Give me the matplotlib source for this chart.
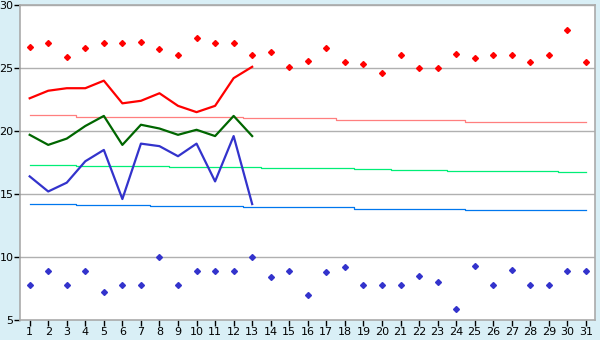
import matplotlib
matplotlib.use("Agg")
import matplotlib.pyplot as plt

days = list(range(1, 32))

# daily values
max_temp = [26.7, 27.0, 25.9, 26.6, 27.0, 27.0, 27.1, 26.5, 26.0, 27.4,
            27.0, 27.0, 26.0, 26.3, 25.1, 25.6, 26.6, 25.5, 25.3, 24.6,
            26.0, 25.0, 25.0, 26.1, 25.8, 26.0, 26.0, 25.5, 26.0, 28.0, 25.5]
min_temp = [7.8, 8.9, 7.8, 8.9, 7.2, 7.8, 7.8, 10.0, 7.8, 8.9,
            8.9, 8.9, 10.0, 8.4, 8.9, 7.0, 8.8, 9.2, 7.8, 7.8,
            7.8, 8.5, 8.0, 5.9, 9.3, 7.8, 9.0, 7.8, 7.8, 8.9, 8.9]

obs_days = list(range(1, 14))
high_line = [22.6, 23.2, 23.4, 23.4, 24.0, 22.2, 22.4, 23.0, 22.0, 21.5, 22.0, 24.2, 25.1]
mean_line = [19.7, 18.9, 19.4, 20.4, 21.2, 18.9, 20.5, 20.2, 19.7, 20.1, 19.6, 21.2, 19.6]
low_line = [16.4, 15.2, 15.9, 17.6, 18.5, 14.6, 19.0, 18.8, 18.0, 19.0, 16.0, 19.6, 14.2]

# normals (slowly falling through the month)
high_norm = [21.25] * 3 + [21.1] * 9 + [21.0] * 5 + [20.85] * 7 + [20.7] * 7
mean_norm = [17.3] * 3 + [17.22] * 5 + [17.14] * 5 + [17.04] * 5 + [16.96] * 2 + [16.88] * 3 + [16.8] * 6 + [16.72] * 2
low_norm = [14.18] * 3 + [14.1] * 4 + [14.02] * 5 + [13.94] * 6 + [13.79] * 6 + [13.71] * 7

bg = "#d9eff6"
fig = plt.figure(figsize=(6, 3.4), dpi=100, facecolor=bg)
ax = fig.add_axes([0.034, 0.059, 0.958, 0.926])
ax.set_facecolor("white")

for y in [10, 15, 20, 25, 30]:
    ax.axhline(y, color="#b0b0b0", lw=1, zorder=1)

ax.plot(days, high_norm, color="#ff7f7f", lw=0.9, drawstyle="steps-mid", zorder=2)
ax.plot(days, mean_norm, color="#00ee77", lw=0.9, drawstyle="steps-mid", zorder=2)
ax.plot(days, low_norm, color="#0077ee", lw=0.9, drawstyle="steps-mid", zorder=2)

ax.plot(obs_days, high_line, color="#ff0000", lw=1.6, zorder=3)
ax.plot(obs_days, mean_line, color="#006600", lw=1.6, zorder=3)
ax.plot(obs_days, low_line, color="#3333cc", lw=1.6, zorder=3)

ax.plot(days, max_temp, "D", color="#ff0000", ms=3, zorder=4)
ax.plot(days, min_temp, "D", color="#3333cc", ms=3, zorder=4)

ax.set_xlim(0.5, 31.5)
ax.set_ylim(5, 30)
ax.set_xticks(days)
ax.set_yticks([5, 10, 15, 20, 25, 30])
ax.tick_params(labelsize=8, length=4, width=1, color="#000000", pad=1)

for side in ["left", "bottom", "right", "top"]:
    ax.spines[side].set_color("#aaaaaa")
    ax.spines[side].set_linewidth(1.2)

fig.savefig("out.png", facecolor=bg)
